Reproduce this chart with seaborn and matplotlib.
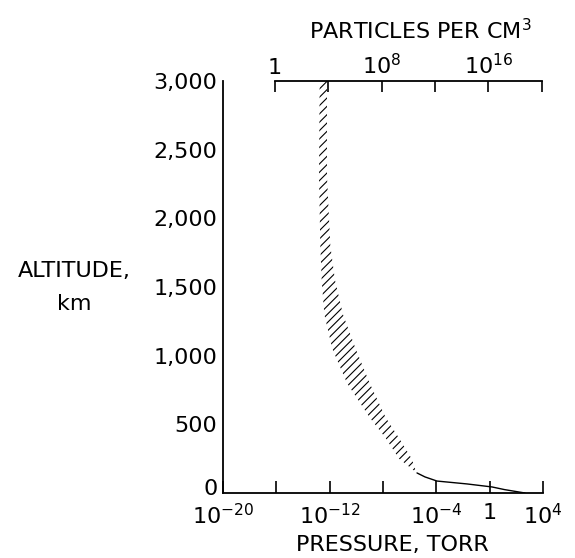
import numpy as np
import matplotlib
matplotlib.use("Agg")
import matplotlib.pyplot as plt
import matplotlib.transforms as mtransforms
import seaborn as sns

# ---- data ----
band_alt = [150, 250, 400, 550, 800, 1050, 1300, 1550, 1800, 2300, 3000]          # km
band_logp_low = [-5.5, -6.8, -7.8, -9.0, -10.7, -11.8, -12.4, -12.6, -12.7, -12.8, -12.75]
band_logp_high = [-5.5, -5.85, -6.8, -7.8, -9.0, -10.05, -11.0, -11.6, -11.95, -12.2, -12.2]

solid_alt = [146, 117, 87, 66, 44, 25, 12, 0]                                     # km
solid_logp = [-5.45, -4.85, -3.95, -1.7, 0.18, 1.1, 1.9, 2.65]

y_ticks = [0, 500, 1000, 1500, 2000, 2500, 3000]
y_labels = ["0", "500", "1,000", "1,500", "2,000", "2,500", "3,000"]
x_ticks_exp = [-20, -16, -12, -8, -4, 0, 4]
x_labels = [r"$10^{-20}$", "", r"$10^{-12}$", "", r"$10^{-4}$", "1", r"$10^{4}$"]
top_ticks_exp = [0, 4, 8, 12, 16, 20]
top_labels = ["1", "", r"$10^{8}$", "", r"$10^{16}$", ""]
top_offset_exp = 16.1   # particles per cm^3 = pressure(torr) * 10**offset

# ---- style ----
sns.set_theme(style="white")
plt.rcParams["font.family"] = ["DejaVu Sans"]
plt.rcParams["mathtext.fontset"] = "dejavusans"
plt.rcParams["hatch.linewidth"] = 0.8
plt.rcParams["text.color"] = "black"

fig = plt.figure(figsize=(5.75, 5.58), dpi=100)
ax = fig.add_axes([223 / 575, 1 - 493 / 558, 320 / 575, 412 / 558])

p_low = 10.0 ** np.array(band_logp_low)
p_high = 10.0 ** np.array(band_logp_high)
ax.fill_betweenx(band_alt, p_low, p_high, facecolor="none", edgecolor="black",
                 hatch="////", linewidth=0)

sns.lineplot(x=10.0 ** np.array(solid_logp), y=solid_alt, orient="y", sort=False,
             color="black", linewidth=1.0, ax=ax)

ax.set_xscale("log")
ax.set_xlim(1e-20, 1e4)
ax.set_ylim(0, 3000)

ax.set_xticks([10.0 ** e for e in x_ticks_exp])
ax.set_xticklabels(x_labels, fontsize=16)
ax.xaxis.set_minor_locator(matplotlib.ticker.NullLocator())
ax.set_yticks(y_ticks)
ax.set_yticklabels(y_labels, fontsize=16)

ax.tick_params(axis="x", direction="in", length=9, width=1.2, pad=7, colors="black")
ax.tick_params(axis="y", direction="in", length=7, width=1.2, pad=4, colors="black")

# nudge the "0" label slightly upward, as in the reference
zero_lbl = ax.get_yticklabels()[0]
zero_lbl.set_transform(zero_lbl.get_transform() +
                       mtransforms.ScaledTranslation(0, 6 / 100, fig.dpi_scale_trans))

for side in ["top", "right"]:
    ax.spines[side].set_visible(False)
for side in ["left", "bottom"]:
    ax.spines[side].set_color("black")
    ax.spines[side].set_linewidth(1.3)

# top axis: particles per cm^3
ax2 = ax.twiny()
ax2.set_xscale("log")
ax2.set_xlim(1e-20 * 10 ** top_offset_exp, 1e4 * 10 ** top_offset_exp)
ax2.set_xticks([10.0 ** e for e in top_ticks_exp])
ax2.set_xticklabels(top_labels, fontsize=16)
ax2.xaxis.set_minor_locator(matplotlib.ticker.NullLocator())
ax2.tick_params(axis="x", direction="in", length=8, width=1.2, pad=2, colors="black")
for side in ["left", "right", "bottom"]:
    ax2.spines[side].set_visible(False)
ax2.spines["top"].set_bounds(1, 1e20)
ax2.spines["top"].set_color("black")
ax2.spines["top"].set_linewidth(1.3)

fig.text(420 / 575, 1 - 31 / 558, r"PARTICLES PER CM$^3$", ha="center", va="center",
         fontsize=16, color="black")
fig.text(392 / 575, 1 - 545 / 558, "PRESSURE, TORR", ha="center", va="center",
         fontsize=16, color="black")
fig.text(74 / 575, 1 - 271 / 558, "ALTITUDE,", ha="center", va="center", fontsize=16,
         color="black")
fig.text(74 / 575, 1 - 304 / 558, "km", ha="center", va="center", fontsize=16,
         color="black")

fig.savefig("out.png", dpi=100)
